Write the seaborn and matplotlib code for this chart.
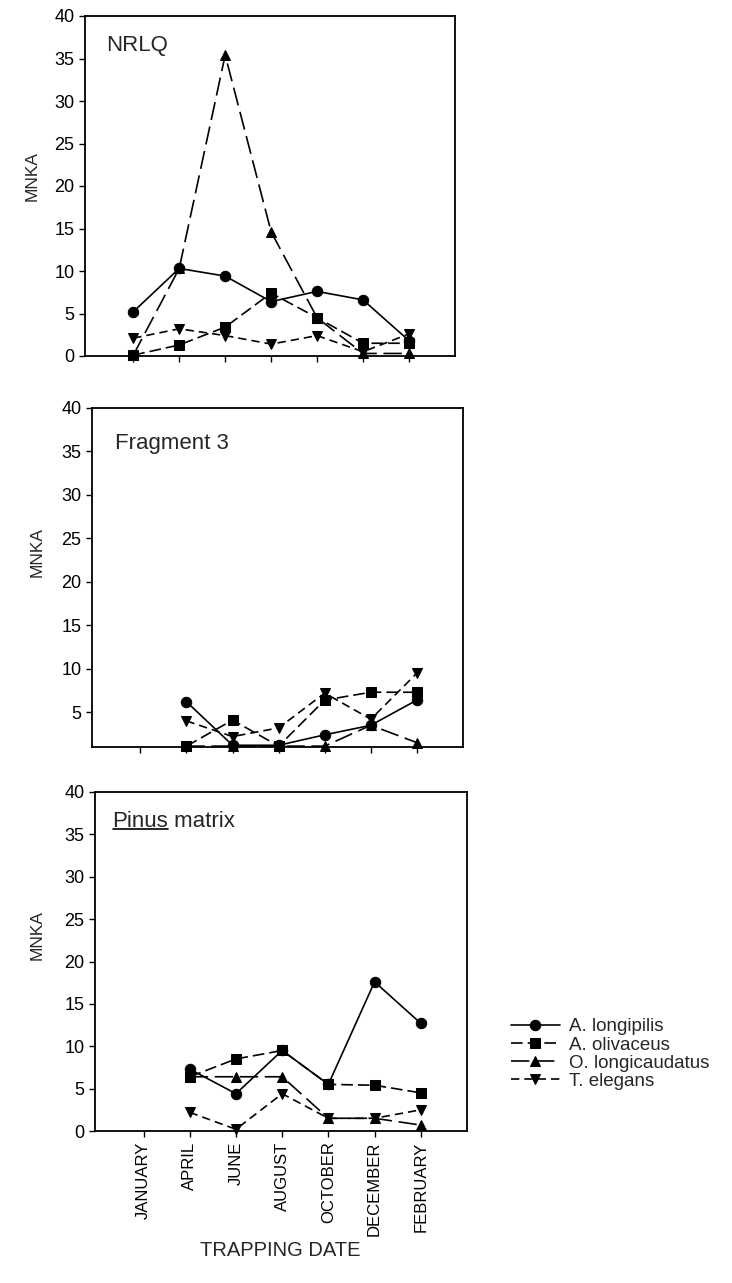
import numpy as np
import pandas as pd
import matplotlib
matplotlib.use("Agg")
import matplotlib.pyplot as plt
import seaborn as sns

# ---------------- data ----------------
months = ["JANUARY", "APRIL", "JUNE", "AUGUST", "OCTOBER", "DECEMBER", "FEBRUARY"]
species = ["A. longipilis", "A. olivaceus", "O. longicaudatus", "T. elegans"]
panels = ["NRLQ", "Fragment 3", "Pinus matrix"]

nrlq_longipilis = [5.2, 10.3, 9.4, 6.4, 7.6, 6.6, 1.8]
nrlq_olivaceus = [0.1, 1.3, 3.4, 7.4, 4.5, 1.5, 1.5]
nrlq_longicaudatus = [0.1, 10.3, 35.4, 14.6, 4.5, 0.3, 0.3]
nrlq_elegans = [2.1, 3.2, 2.4, 1.4, 2.4, 0.5, 2.6]

frag_longipilis = [None, 6.2, 1.2, 1.2, 2.4, 3.5, 6.4]
frag_olivaceus = [None, 1.1, 4.1, 1.1, 6.4, 7.3, 7.3]
frag_longicaudatus = [None, 1.1, 1.1, 1.1, 1.1, 3.5, 1.5]
frag_elegans = [None, 4.0, 2.2, 3.2, 7.2, 4.2, 9.5]

pinus_longipilis = [None, 7.3, 4.4, 9.5, 5.5, 17.6, 12.7]
pinus_olivaceus = [None, 6.4, 8.5, 9.5, 5.5, 5.4, 4.5]
pinus_longicaudatus = [None, 6.4, 6.4, 6.4, 1.5, 1.5, 0.7]
pinus_elegans = [None, 2.2, 0.2, 4.4, 1.5, 1.5, 2.5]

panel_data = {
    "NRLQ": [nrlq_longipilis, nrlq_olivaceus, nrlq_longicaudatus, nrlq_elegans],
    "Fragment 3": [frag_longipilis, frag_olivaceus, frag_longicaudatus, frag_elegans],
    "Pinus matrix": [pinus_longipilis, pinus_olivaceus, pinus_longicaudatus, pinus_elegans],
}

rows = []
for p in panels:
    for sp, vals in zip(species, panel_data[p]):
        for i, v in enumerate(vals):
            if v is not None:
                rows.append({"panel": p, "species": sp, "pos": i, "month": months[i], "MNKA": v})
df = pd.DataFrame(rows)

# ---------------- style ----------------
sns.set_style("ticks")
plt.rcParams["font.family"] = ["Liberation Sans", "DejaVu Sans"]

W, H = 732, 1283
fig = plt.figure(figsize=(W / 100, H / 100), dpi=100)

# axes boxes in pixels: left, right, top, bottom
boxes = [(85, 455, 16, 356), (92, 463, 408, 747), (95, 467, 792, 1131)]
ylims = [(0, 40), (1, 40), (0, 40)]
ylab_y = [0.53, 0.575, 0.578]
ylab_xpx = [40, 45, 45]

markers = {"A. longipilis": "o", "A. olivaceus": "s", "O. longicaudatus": "^", "T. elegans": "v"}
dashes = {"A. longipilis": "", "A. olivaceus": (7, 3), "O. longicaudatus": (11, 4), "T. elegans": (5, 3)}
palette = {s: "black" for s in species}

axes = []
for k, p in enumerate(panels):
    l, r, t, b = boxes[k]
    ax = fig.add_axes([l / W, 1 - b / H, (r - l) / W, (b - t) / H])
    axes.append(ax)
    sub = df[df["panel"] == p]
    sns.lineplot(data=sub, x="pos", y="MNKA", hue="species", style="species",
                 hue_order=species, style_order=species,
                 palette=palette, markers=markers, dashes=dashes,
                 markersize=7.5, markeredgecolor="black", linewidth=1.2,
                 legend=(k == 2), ax=ax, clip_on=False)
    ax.set_xlim(-1.05, 7)
    ax.set_ylim(*ylims[k])
    if k == 1:
        ax.set_yticks(np.arange(5, 41, 5))
    else:
        ax.set_yticks(np.arange(0, 41, 5))
    ax.set_xticks(range(len(months)))
    if k == 2:
        ax.set_xticklabels(months, rotation=90, fontsize=12)
    else:
        ax.set_xticklabels([])
    ax.set_xlabel("")
    ax.set_ylabel("MNKA", fontsize=12.5)
    ax.yaxis.set_label_coords((ylab_xpx[k] - l) / (r - l), ylab_y[k])
    ax.tick_params(axis="both", direction="out", length=4, width=1, colors="black",
                   labelsize=13)
    if k == 2:
        ax.tick_params(axis="x", labelsize=12)
    for s in ax.spines.values():
        s.set_visible(True)
        s.set_linewidth(1.3)
        s.set_color("black")

# panel labels
axes[0].text(0.057, 0.945, "NRLQ", transform=axes[0].transAxes, fontsize=16,
             va="top", ha="left")
axes[1].text(0.062, 0.925, "Fragment 3", transform=axes[1].transAxes, fontsize=16,
             va="top", ha="left")

fig.canvas.draw()
rend = fig.canvas.get_renderer()
ax3 = axes[2]
t1 = ax3.text(0.046, 0.945, "Pinus", transform=ax3.transAxes, fontsize=16,
              va="top", ha="left")
bb = t1.get_window_extent(rend)
inv = ax3.transAxes.inverted()
x0, y0 = inv.transform((bb.x0 + 1, bb.y0 + 3))
x1, _ = inv.transform((bb.x1, bb.y0 + 3))
ax3.plot([x0, x1], [y0, y0], transform=ax3.transAxes, color="black", lw=1.2,
         clip_on=False)
ax3.text(x1, 0.945, " matrix", transform=ax3.transAxes, fontsize=16,
         va="top", ha="left")

# x label
fig.text(280 / W, 1 - 1250 / H, "TRAPPING DATE", fontsize=14.5, ha="center", va="center")

# legend
handles, labels = ax3.get_legend_handles_labels()
ax3.get_legend().remove()
fig.legend(handles, labels, loc="center left", bbox_to_anchor=(511 / W, 1 - 1054 / H),
           frameon=False, fontsize=13.5, handlelength=2.6, handletextpad=0.5,
           labelspacing=0.05, borderpad=0, borderaxespad=0)

fig.savefig("out.png", dpi=100)
